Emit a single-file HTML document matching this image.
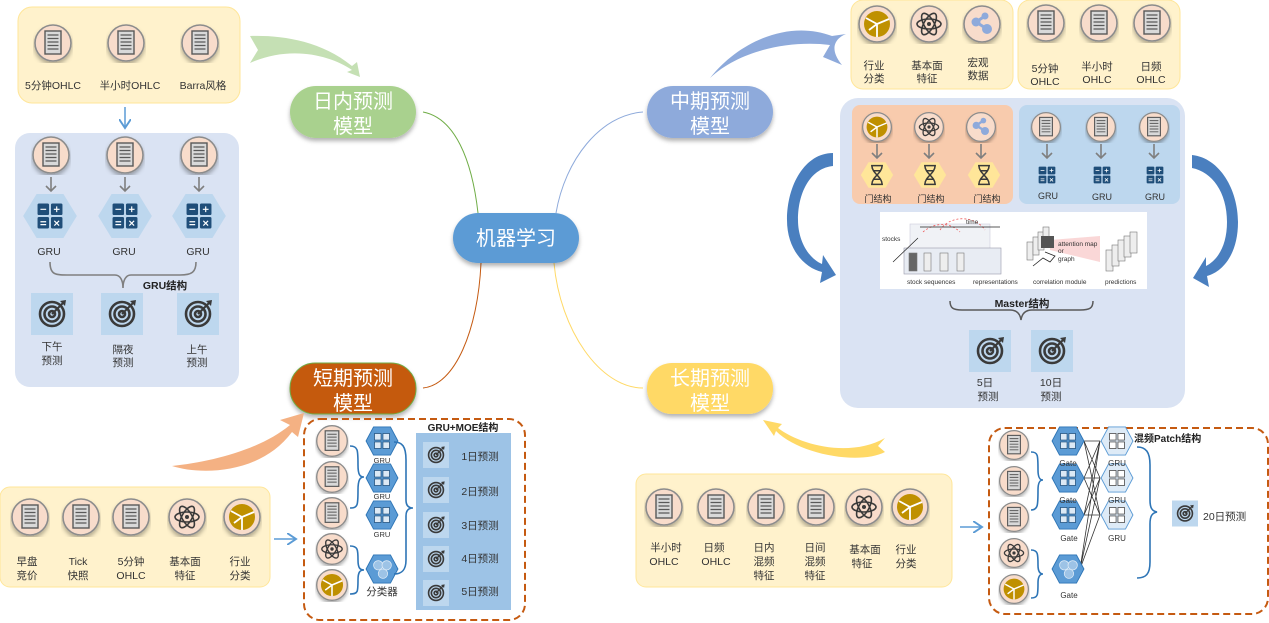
<!DOCTYPE html>
<html><head><meta charset="utf-8"><style>
html,body{margin:0;padding:0;background:#fff;width:1269px;height:623px;overflow:hidden}
svg{display:block}
text{font-family:"Liberation Sans","Noto Sans CJK SC",sans-serif;fill:#333}
.s{font-size:10.5px}
.pill{font-size:20px;fill:#fff}
</style></head><body>
<svg width="1269" height="623" viewBox="0 0 1269 623" xmlns="http://www.w3.org/2000/svg">
<defs>
<filter id="sh" x="-30%" y="-30%" width="160%" height="170%"><feDropShadow dx="0" dy="3" stdDeviation="2" flood-color="#000" flood-opacity="0.3"/></filter>
<symbol id="doc" viewBox="-20 -20 40 40"><circle r="18" fill="#f8dccb" stroke="#8c8c8c" stroke-width="1.6" filter="url(#sh)"/><rect x="-8" y="-12" width="16" height="23" fill="#d9d9d9" stroke="#595959" stroke-width="1.4"/><path d="M-5.5-8h11M-5.5-4.5h11M-5.5-1h11M-5.5 2.5h11M-5.5 6h11" stroke="#595959" stroke-width="1.2"/></symbol>
<symbol id="atom" viewBox="-20 -20 40 40"><circle r="18" fill="#f8dccb" stroke="#8c8c8c" stroke-width="1.6" filter="url(#sh)"/><g fill="none" stroke="#3a3a3a" stroke-width="1.6"><ellipse rx="12" ry="5"/><ellipse rx="12" ry="5" transform="rotate(60)"/><ellipse rx="12" ry="5" transform="rotate(-60)"/></g><circle r="2" fill="#3a3a3a"/></symbol>
<symbol id="pie" viewBox="-20 -20 40 40"><circle r="18" fill="#f8dccb" stroke="#8c8c8c" stroke-width="1.6" filter="url(#sh)"/><circle r="13" fill="#bf9000"/><path d="M0 0L0 13M0 0L-11-6M0 0L-8 6M0 0L12-5" stroke="#fff" stroke-width="1.8"/></symbol>
<symbol id="share" viewBox="-20 -20 40 40"><circle r="18" fill="#f8dccb" stroke="#8c8c8c" stroke-width="1.6" filter="url(#sh)"/><path d="M-6-2L3-8M-6-2L5 5" stroke="#8eaadb" stroke-width="3"/><circle cx="-6" cy="-2" r="4.5" fill="#8eaadb"/><circle cx="3" cy="-8" r="3.5" fill="#8eaadb"/><circle cx="5" cy="5" r="5" fill="#8eaadb"/></symbol>
<symbol id="tgt" viewBox="-21 -21 42 42"><rect x="-21" y="-21" width="42" height="42" fill="#bdd7ee"/><g fill="none" stroke="#3a3a3a" stroke-width="2.6"><circle r="12"/><circle r="7.5"/><circle r="3"/></g><path d="M0 0L11-11" stroke="#3a3a3a" stroke-width="2"/><path d="M8-13l6-1-1 6z" fill="#3a3a3a"/></symbol>
<symbol id="calc" viewBox="-14 -14 28 28"><rect x="-13" y="-13" width="12" height="12" rx="1.5" fill="#1f4e79"/><rect x="1" y="-13" width="12" height="12" rx="1.5" fill="#1f4e79"/><rect x="-13" y="1" width="12" height="12" rx="1.5" fill="#1f4e79"/><rect x="1" y="1" width="12" height="12" rx="1.5" fill="#1f4e79"/><path d="M-10-7h6M4-7h6M7-10v6M-10 6h6M-10 9h6M4.5 5l5 5M9.5 5l-5 5" stroke="#fff" stroke-width="1.2"/></symbol>
<symbol id="hexgru" viewBox="-28 -24 56 48"><polygon points="-28,0 -14,-23 14,-23 28,0 14,23 -14,23" fill="#bdd7ee"/><use href="#calc" x="-14" y="-14" width="28" height="28"/></symbol>
<symbol id="hexdk" viewBox="-18 -16 36 32"><polygon points="-17,0 -9,-15 9,-15 17,0 9,15 -9,15" fill="#5b9bd5" stroke="#2e75b6"/><g fill="#dce9f5" stroke="#1f4e79" stroke-width=".8"><rect x="-8" y="-8" width="7" height="7"/><rect x="1" y="-8" width="7" height="7"/><rect x="-8" y="1" width="7" height="7"/><rect x="1" y="1" width="7" height="7"/></g></symbol>
<symbol id="hexlt" viewBox="-18 -16 36 32"><polygon points="-17,0 -9,-15 9,-15 17,0 9,15 -9,15" fill="#deebf7" stroke="#5b9bd5"/><g fill="#fff" stroke="#404040" stroke-width=".8"><rect x="-8" y="-8" width="7" height="7"/><rect x="1" y="-8" width="7" height="7"/><rect x="-8" y="1" width="7" height="7"/><rect x="1" y="1" width="7" height="7"/></g></symbol>
<symbol id="hexcls" viewBox="-18 -16 36 32"><polygon points="-17,0 -9,-15 9,-15 17,0 9,15 -9,15" fill="#5b9bd5" stroke="#2e75b6"/><g fill="#9dc3e6" stroke="#deebf7" stroke-width=".8"><circle cx="-4" cy="-4" r="5"/><circle cx="5" cy="-4" r="5"/><circle cx="1" cy="5" r="5"/></g></symbol>
<symbol id="dna" viewBox="-20 -16 40 32"><polygon points="-19,0 -10,-15 10,-15 19,0 10,15 -10,15" fill="#ffe699"/><path d="M-7-11h14M-7 11h14M-6-11C-6-2 6 2 6 11M6-11C6-2-6 2-6 11M-4-5h8M-4 5h8" stroke="#3a3a3a" stroke-width="1.8" fill="none"/></symbol>
<symbol id="ga" viewBox="0 0 12 16"><path d="M6 0V14M1 9L6 14L11 9" fill="none" stroke="#7f7f7f" stroke-width="1.6"/></symbol>
<marker id="ah" markerWidth="8" markerHeight="8" refX="6" refY="4" orient="auto"><path d="M0 0L6 4L0 8" fill="none" stroke="#5b9bd5" stroke-width="1.3"/></marker>
</defs>

<!-- connectors from center -->
<path d="M423 112C455 118 472 160 478 213" fill="none" stroke="#70ad47" stroke-width="1"/>
<path d="M481 263C478 330 455 385 423 388" fill="none" stroke="#c55a11" stroke-width="1"/>
<path d="M643 112C600 115 565 160 556 213" fill="none" stroke="#8eaadb" stroke-width="1"/>
<path d="M554 263C560 330 600 388 643 388" fill="none" stroke="#ffd966" stroke-width="1"/>

<!-- pills -->
<g filter="url(#sh)">
<rect x="290" y="86" width="126" height="52" rx="26" fill="#a9d18e"/>
<rect x="453" y="213" width="126" height="50" rx="25" fill="#5b9bd5"/>
<rect x="647" y="86" width="126" height="52" rx="26" fill="#8eaadb"/>
<rect x="290" y="363" width="126" height="51" rx="25" fill="#c55a11" stroke="#70ad47" stroke-width="1"/>
<rect x="647" y="363" width="126" height="51" rx="25" fill="#ffd966"/>
</g>
<text class="pill" x="353" y="108" text-anchor="middle">日内预测</text><text class="pill" x="353" y="133" text-anchor="middle">模型</text>
<text class="pill" x="516" y="245" text-anchor="middle">机器学习</text>
<text class="pill" x="710" y="108" text-anchor="middle">中期预测</text><text class="pill" x="710" y="133" text-anchor="middle">模型</text>
<text class="pill" x="353" y="385" text-anchor="middle">短期预测</text><text class="pill" x="353" y="410" text-anchor="middle">模型</text>
<text class="pill" x="710" y="385" text-anchor="middle">长期预测</text><text class="pill" x="710" y="410" text-anchor="middle">模型</text>

<!-- big curved arrows -->
<path d="M250 36L258 50L250 63C290 45 330 55 352 70L347 72L360 77L357 62L352 66C320 40 280 35 250 36Z" fill="#c5e0b4"/>
<path d="M710 78C740 50 790 40 830 45L823 57L842 65C828 48 836 38 846 34L832 36C790 20 740 40 710 78Z" fill="#8eaadb"/>
<path d="M172 466C210 462 260 450 290 425L280 420L304 413L298 437L292 432C260 475 200 475 172 466Z" fill="#f4b183"/>
<path d="M885 438C850 458 800 445 778 428L782 424L763 420L774 436L776 431C800 455 860 465 885 452L878 446Z" fill="#ffd966"/>
<path d="M833 153C805 153 787 185 787 220C787 250 805 268 822 272L820 283L836 275L823 255L822 264C808 258 798 240 798 220C798 190 812 168 833 166Z" fill="#4a7fbf"/>
<path d="M1192 155C1220 158 1238 190 1238 222C1238 255 1222 272 1207 276L1209 287L1193 278L1206 257L1206 266C1218 260 1227 245 1227 222C1227 192 1212 172 1192 168Z" fill="#4a7fbf"/>

<!-- TOP LEFT -->
<rect x="18" y="7" width="222" height="96" rx="14" fill="#fff2cc" stroke="#ffe699"/>
<use href="#doc" x="33" y="23" width="40" height="40"/><use href="#doc" x="106" y="23" width="40" height="40"/><use href="#doc" x="180" y="23" width="40" height="40"/>
<text class="s" x="53" y="89" text-anchor="middle">5分钟OHLC</text><text class="s" x="130" y="89" text-anchor="middle">半小时OHLC</text><text class="s" x="203" y="89" text-anchor="middle">Barra风格</text>
<path d="M125 107V128" stroke="#5b9bd5" stroke-width="1.5" marker-end="url(#ah)"/>
<rect x="15" y="133" width="224" height="254" rx="15" fill="#dae3f3"/>
<use href="#doc" x="31" y="135" width="40" height="40"/><use href="#doc" x="105" y="135" width="40" height="40"/><use href="#doc" x="179" y="135" width="40" height="40"/>
<use href="#ga" x="45" y="177" width="12" height="16"/><use href="#ga" x="119" y="177" width="12" height="16"/><use href="#ga" x="193" y="177" width="12" height="16"/>
<use href="#hexgru" x="22" y="193" width="56" height="46"/><use href="#hexgru" x="97" y="193" width="56" height="46"/><use href="#hexgru" x="171" y="193" width="56" height="46"/>
<text class="s" x="49" y="255" text-anchor="middle">GRU</text><text class="s" x="124" y="255" text-anchor="middle">GRU</text><text class="s" x="198" y="255" text-anchor="middle">GRU</text>
<path d="M50 262C50 275 55 275 70 275H115C120 275 123 280 123 288C123 280 126 275 131 275H180C192 275 196 272 196 262" fill="none" stroke="#7f7f7f" stroke-width="1.6"/>
<text x="165" y="289" text-anchor="middle" style="font-size:10.5px;font-weight:bold;fill:#222">GRU结构</text>
<use href="#tgt" x="31" y="293" width="42" height="42"/><use href="#tgt" x="101" y="293" width="42" height="42"/><use href="#tgt" x="177" y="293" width="42" height="42"/>
<text class="s" x="52" y="350" text-anchor="middle">下午</text><text class="s" x="52" y="364" text-anchor="middle">预测</text>
<text class="s" x="123" y="353" text-anchor="middle">隔夜</text><text class="s" x="123" y="366" text-anchor="middle">预测</text>
<text class="s" x="197" y="353" text-anchor="middle">上午</text><text class="s" x="197" y="366" text-anchor="middle">预测</text>

<!-- TOP RIGHT -->
<rect x="851" y="0" width="162" height="89" rx="12" fill="#fff2cc" stroke="#ffe699"/>
<rect x="1018" y="0" width="162" height="89" rx="12" fill="#fff2cc" stroke="#ffe699"/>
<use href="#pie" x="857" y="4" width="40" height="40"/><use href="#atom" x="909" y="4" width="40" height="40"/><use href="#share" x="962" y="4" width="40" height="40"/>
<use href="#doc" x="1026" y="3" width="40" height="40"/><use href="#doc" x="1079" y="3" width="40" height="40"/><use href="#doc" x="1132" y="3" width="40" height="40"/>
<text class="s" x="874" y="69" text-anchor="middle">行业</text><text class="s" x="874" y="82" text-anchor="middle">分类</text>
<text class="s" x="927" y="69" text-anchor="middle">基本面</text><text class="s" x="927" y="82" text-anchor="middle">特征</text>
<text class="s" x="978" y="66" text-anchor="middle">宏观</text><text class="s" x="978" y="79" text-anchor="middle">数据</text>
<text class="s" x="1045" y="72" text-anchor="middle">5分钟</text><text class="s" x="1045" y="85" text-anchor="middle">OHLC</text>
<text class="s" x="1097" y="70" text-anchor="middle">半小时</text><text class="s" x="1097" y="83" text-anchor="middle">OHLC</text>
<text class="s" x="1151" y="70" text-anchor="middle">日频</text><text class="s" x="1151" y="83" text-anchor="middle">OHLC</text>
<rect x="840" y="98" width="345" height="310" rx="18" fill="#dae3f3"/>
<rect x="852" y="105" width="161" height="99" rx="8" fill="#f8cbad"/>
<rect x="1019" y="105" width="161" height="99" rx="8" fill="#bdd7ee"/>
<use href="#pie" x="861" y="111" width="32" height="32"/><use href="#atom" x="913" y="111" width="32" height="32"/><use href="#share" x="965" y="111" width="32" height="32"/>
<use href="#doc" x="1030" y="111" width="32" height="32"/><use href="#doc" x="1085" y="111" width="32" height="32"/><use href="#doc" x="1138" y="111" width="32" height="32"/>
<use href="#ga" x="871" y="144" width="12" height="16"/><use href="#ga" x="923" y="144" width="12" height="16"/><use href="#ga" x="975" y="144" width="12" height="16"/><use href="#ga" x="1041" y="144" width="12" height="16"/><use href="#ga" x="1095" y="144" width="12" height="16"/><use href="#ga" x="1148" y="144" width="12" height="16"/>
<use href="#dna" x="860" y="161" width="34" height="28"/><use href="#dna" x="913" y="161" width="34" height="28"/><use href="#dna" x="967" y="161" width="34" height="28"/>
<use href="#calc" x="1038" y="166" width="18" height="18"/><use href="#calc" x="1093" y="166" width="18" height="18"/><use href="#calc" x="1146" y="166" width="18" height="18"/>
<text x="878" y="202" text-anchor="middle" style="font-size:9px">门结构</text><text x="931" y="202" text-anchor="middle" style="font-size:9px">门结构</text><text x="987" y="202" text-anchor="middle" style="font-size:9px">门结构</text>
<text x="1048" y="199" text-anchor="middle" style="font-size:9px">GRU</text><text x="1102" y="200" text-anchor="middle" style="font-size:9px">GRU</text><text x="1155" y="200" text-anchor="middle" style="font-size:9px">GRU</text>
<!-- Master figure -->
<rect x="880" y="212" width="267" height="77" fill="#fff"/>
<g stroke="#777" fill="#eee" stroke-width=".6">
<rect x="910" y="224" width="80" height="28" fill="#f0f2f6" stroke="#ccd"/>
<rect x="904" y="248" width="97" height="26" fill="#e8ecf3" stroke="#99a"/>
<rect x="909" y="253" width="8" height="18" fill="#666"/><rect x="924" y="253" width="7" height="18"/><rect x="940" y="253" width="8" height="18"/><rect x="957" y="253" width="7" height="18"/>
<rect x="1027" y="242" width="6" height="18"/><rect x="1033" y="237" width="6" height="18"/><rect x="1038" y="232" width="6" height="18"/><rect x="1043" y="227" width="6" height="18"/>
<rect x="1106" y="250" width="7" height="21"/><rect x="1112" y="245" width="7" height="21"/><rect x="1118" y="240" width="7" height="21"/><rect x="1124" y="236" width="7" height="21"/><rect x="1130" y="232" width="7" height="21"/>
</g>
<path d="M1050 240L1100 236L1100 262L1050 250Z" fill="#f8c6c6" opacity=".7"/>
<path d="M923 232C935 222 950 222 960 232M940 230C950 215 975 215 985 230" fill="none" stroke="#e55" stroke-dasharray="2 2" stroke-width=".8"/>
<path d="M920 227H1000M893 262L918 238" stroke="#222" stroke-width=".7"/>
<rect x="1041" y="236" width="13" height="12" fill="#555"/>
<path d="M1033 266L1043 258L1050 262L1055 256L1045 252" fill="none" stroke="#222" stroke-width=".8"/>
<g style="font-family:'Liberation Serif',serif;font-size:6.5px"><text x="966" y="224">time</text><text x="882" y="241">stocks</text><text x="1058" y="246">attention map</text><text x="1058" y="253">or</text><text x="1058" y="261">graph</text><text x="907" y="284">stock sequences</text><text x="973" y="284">representations</text><text x="1033" y="284">correlation module</text><text x="1105" y="284">predictions</text></g>
<path d="M950 301C950 308 953 310 962 310H1010C1016 310 1020 313 1021 320C1022 313 1026 310 1032 310H1080C1090 310 1093 308 1093 301" fill="none" stroke="#595959" stroke-width="1.5"/>
<text x="1022" y="307" text-anchor="middle" style="font-size:10.5px;font-weight:bold;fill:#222">Master结构</text>
<use href="#tgt" x="969" y="330" width="42" height="42"/><use href="#tgt" x="1031" y="330" width="42" height="42"/>
<text class="s" x="985" y="386" text-anchor="middle">5日</text><text class="s" x="988" y="400" text-anchor="middle">预测</text>
<text class="s" x="1051" y="386" text-anchor="middle">10日</text><text class="s" x="1051" y="400" text-anchor="middle">预测</text>

<!-- BOTTOM LEFT -->
<rect x="0" y="487" width="270" height="100" rx="10" fill="#fff2cc" stroke="#ffe699"/>
<use href="#doc" x="10" y="497" width="40" height="40"/><use href="#doc" x="61" y="497" width="40" height="40"/><use href="#doc" x="111" y="497" width="40" height="40"/><use href="#atom" x="167" y="497" width="40" height="40"/><use href="#pie" x="222" y="497" width="40" height="40"/>
<text class="s" x="27" y="565" text-anchor="middle">早盘</text><text class="s" x="27" y="579" text-anchor="middle">竞价</text>
<text class="s" x="78" y="565" text-anchor="middle">Tick</text><text class="s" x="78" y="579" text-anchor="middle">快照</text>
<text class="s" x="131" y="565" text-anchor="middle">5分钟</text><text class="s" x="131" y="579" text-anchor="middle">OHLC</text>
<text class="s" x="185" y="565" text-anchor="middle">基本面</text><text class="s" x="185" y="579" text-anchor="middle">特征</text>
<text class="s" x="240" y="565" text-anchor="middle">行业</text><text class="s" x="240" y="579" text-anchor="middle">分类</text>
<path d="M274 539H296" stroke="#5b9bd5" stroke-width="1.5" marker-end="url(#ah)"/>
<rect x="304" y="419" width="221" height="201" rx="16" fill="none" stroke="#c55a11" stroke-width="2" stroke-dasharray="7 4"/>
<use href="#doc" x="315" y="424" width="34" height="34"/><use href="#doc" x="315" y="460" width="34" height="34"/><use href="#doc" x="315" y="496" width="34" height="34"/><use href="#atom" x="315" y="532" width="34" height="34"/><use href="#pie" x="315" y="568" width="34" height="34"/>
<path d="M350 446C358 446 358 450 358 465C358 475 360 477 364 477C360 477 358 480 358 490C358 505 358 508 350 508M350 546C358 546 358 550 358 560C358 568 360 570 364 570C360 570 358 572 358 580C358 592 358 594 350 594" fill="none" stroke="#2e75b6" stroke-width="1.6"/>
<use href="#hexdk" x="365" y="426" width="34" height="30"/><use href="#hexdk" x="365" y="463" width="34" height="30"/><use href="#hexdk" x="365" y="500" width="34" height="30"/><use href="#hexcls" x="365" y="554" width="34" height="30"/>
<text x="382" y="463" text-anchor="middle" style="font-size:7.5px">GRU</text><text x="382" y="499" text-anchor="middle" style="font-size:7.5px">GRU</text><text x="382" y="537" text-anchor="middle" style="font-size:7.5px">GRU</text>
<text class="s" x="382" y="595" text-anchor="middle">分类器</text>
<path d="M394 442C402 442 406 446 406 460V500C406 505 408 508 413 508C408 508 406 511 406 516V560C406 570 402 574 394 574" fill="none" stroke="#2e75b6" stroke-width="1.6"/>
<rect x="416" y="433" width="95" height="177" fill="#9dc3e6"/>
<text x="463" y="431" text-anchor="middle" style="font-size:10px;font-weight:bold;fill:#222">GRU+MOE结构</text>
<g><use href="#tgt" x="423" y="442" width="26" height="26"/><use href="#tgt" x="423" y="477" width="26" height="26"/><use href="#tgt" x="423" y="512" width="26" height="26"/><use href="#tgt" x="423" y="546" width="26" height="26"/><use href="#tgt" x="423" y="580" width="26" height="26"/></g>
<text class="s" x="480" y="460" text-anchor="middle">1日预测</text><text class="s" x="480" y="495" text-anchor="middle">2日预测</text><text class="s" x="480" y="529" text-anchor="middle">3日预测</text><text class="s" x="480" y="562" text-anchor="middle">4日预测</text><text class="s" x="480" y="595" text-anchor="middle">5日预测</text>

<!-- BOTTOM RIGHT -->
<rect x="636" y="474" width="316" height="113" rx="10" fill="#fff2cc" stroke="#ffe699"/>
<use href="#doc" x="644" y="487" width="40" height="40"/><use href="#doc" x="696" y="487" width="40" height="40"/><use href="#doc" x="746" y="487" width="40" height="40"/><use href="#doc" x="796" y="487" width="40" height="40"/><use href="#atom" x="844" y="487" width="40" height="40"/><use href="#pie" x="890" y="487" width="40" height="40"/>
<text class="s" x="666" y="551" text-anchor="middle">半小时</text><text class="s" x="664" y="565" text-anchor="middle">OHLC</text>
<text class="s" x="714" y="551" text-anchor="middle">日频</text><text class="s" x="716" y="565" text-anchor="middle">OHLC</text>
<text class="s" x="764" y="551" text-anchor="middle">日内</text><text class="s" x="764" y="565" text-anchor="middle">混频</text><text class="s" x="764" y="579" text-anchor="middle">特征</text>
<text class="s" x="815" y="551" text-anchor="middle">日间</text><text class="s" x="815" y="565" text-anchor="middle">混频</text><text class="s" x="815" y="579" text-anchor="middle">特征</text>
<text class="s" x="865" y="553" text-anchor="middle">基本面</text><text class="s" x="862" y="567" text-anchor="middle">特征</text>
<text class="s" x="906" y="553" text-anchor="middle">行业</text><text class="s" x="906" y="567" text-anchor="middle">分类</text>
<path d="M960 527H982" stroke="#5b9bd5" stroke-width="1.5" marker-end="url(#ah)"/>
<rect x="989" y="428" width="279" height="186" rx="16" fill="none" stroke="#c55a11" stroke-width="2" stroke-dasharray="7 4"/>
<use href="#doc" x="998" y="429" width="32" height="32"/><use href="#doc" x="998" y="465" width="32" height="32"/><use href="#doc" x="998" y="501" width="32" height="32"/><use href="#atom" x="998" y="537" width="32" height="32"/><use href="#pie" x="998" y="573" width="32" height="32"/>
<path d="M1031 452C1038 452 1038 455 1038 470C1038 478 1040 480 1043 480C1040 480 1038 482 1038 490C1038 505 1038 510 1031 510M1031 550C1038 550 1038 554 1038 565C1038 572 1040 574 1043 574C1040 574 1038 576 1038 583C1038 595 1038 598 1031 598" fill="none" stroke="#2e75b6" stroke-width="1.6"/>
<g stroke="#333" stroke-width=".8"><path d="M1084 441L1100 441M1084 441L1100 478M1084 441L1100 515M1084 478L1100 441M1084 478L1100 478M1084 478L1100 515M1084 515L1100 441M1084 515L1100 478M1084 515L1100 515M1080 569L1100 441M1080 569L1100 478M1080 569L1100 515"/></g>
<use href="#hexdk" x="1051" y="426" width="34" height="30"/><use href="#hexdk" x="1051" y="463" width="34" height="30"/><use href="#hexdk" x="1051" y="500" width="34" height="30"/><use href="#hexcls" x="1051" y="554" width="34" height="30"/>
<use href="#hexlt" x="1100" y="426" width="34" height="30"/><use href="#hexlt" x="1100" y="463" width="34" height="30"/><use href="#hexlt" x="1100" y="500" width="34" height="30"/>
<text x="1068" y="466" text-anchor="middle" style="font-size:8px">Gate</text><text x="1068" y="503" text-anchor="middle" style="font-size:8px">Gate</text><text x="1069" y="541" text-anchor="middle" style="font-size:8px">Gate</text><text x="1069" y="598" text-anchor="middle" style="font-size:8px">Gate</text>
<text x="1117" y="466" text-anchor="middle" style="font-size:8px">GRU</text><text x="1117" y="503" text-anchor="middle" style="font-size:8px">GRU</text><text x="1117" y="541" text-anchor="middle" style="font-size:8px">GRU</text>
<text x="1134" y="442" style="font-size:10px;font-weight:bold;fill:#222">混频Patch结构</text>
<path d="M1137 447C1146 447 1150 452 1150 465V500C1150 508 1152 511 1157 512C1152 513 1150 516 1150 524V562C1150 574 1146 578 1137 578" fill="none" stroke="#2e75b6" stroke-width="1.6"/>
<use href="#tgt" x="1172" y="500" width="26" height="27"/>
<text class="s" x="1203" y="520">20日预测</text>
</svg>
</body></html>
